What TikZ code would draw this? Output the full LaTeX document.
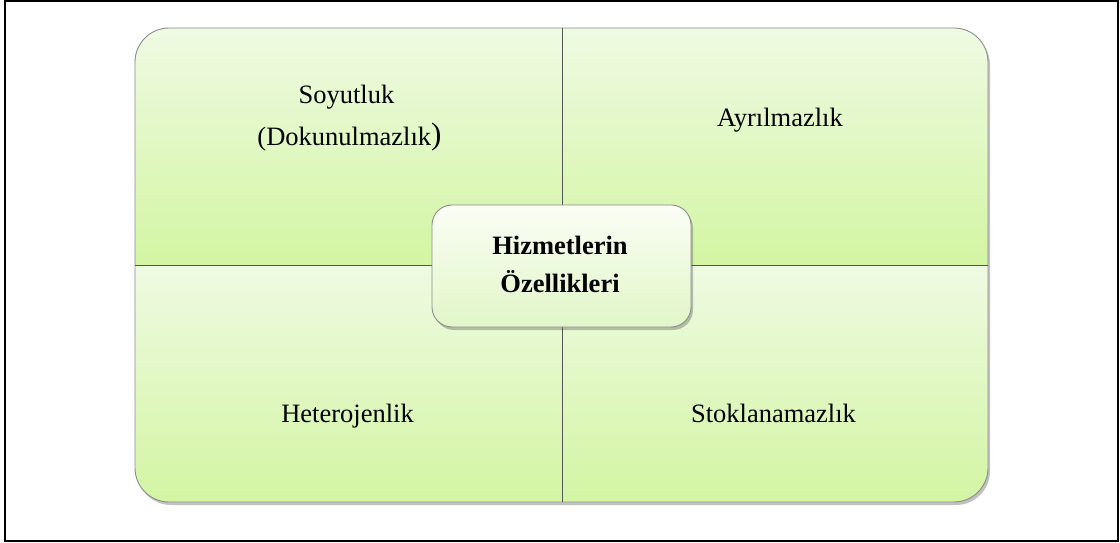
\documentclass[tikz,border=0pt]{standalone}
\usepackage{fontspec}
\setmainfont{Liberation Serif}
\usetikzlibrary{shadows}
\definecolor{quadtop}{HTML}{EFFAE3}
\definecolor{quadbot}{HTML}{D3F5A3}
\definecolor{edgegray}{HTML}{8C8C8C}
\definecolor{divline}{HTML}{555555}
\definecolor{hubtop}{HTML}{FBFEF6}
\definecolor{hubbot}{HTML}{E2F6C8}
\tikzset{
  lbl/.style={font=\fontsize{26.5}{32}\selectfont, inner sep=0pt, anchor=base},
  hublbl/.style={font=\fontsize{26.5}{32}\selectfont\bfseries, inner sep=0pt, anchor=base},
  quad/.style={top color=quadtop, bottom color=quadbot, draw=none},
  softshadow/.style={drop shadow={shadow xshift=2pt, shadow yshift=-3pt, opacity=0.35, fill=black!70}}
}
\begin{document}
\begin{tikzpicture}[x=1pt, y=-1pt]
  \useasboundingbox (0,0) rectangle (1120,543);
  % outer frame
  \draw[line width=1.4pt] (5,1) rectangle (1118,541);

  % four-part matrix with rounded outer corners
  \path[rounded corners=34, fill=white, softshadow] (135,28) rectangle (988,502);
  \begin{scope}
    \clip[rounded corners=34] (135,28) rectangle (988,502);
    \shade[quad] (135,28) rectangle (562,265);
    \shade[quad] (562,28) rectangle (988,265);
    \shade[quad] (135,265) rectangle (562,502);
    \shade[quad] (562,265) rectangle (988,502);
  \end{scope}
  \draw[rounded corners=34, edgegray, line width=0.9pt] (135,28) rectangle (988,502);
  \coordinate (vt) at (562,28);
  \coordinate (vb) at (562,502);
  \coordinate (hl) at (135,265);
  \coordinate (hr) at (988,265);
  \draw[divline, line width=0.8pt] (vt) -- (vb);
  \draw[divline, line width=0.8pt] (hl) -- (hr);

  % quadrant labels (positioned by baseline)
  \node[lbl] (soyut1) at (346.5,103) {Soyutluk};
  \node[lbl] (soyut2) at (349.5,145) {(Dokunulmazlık{\fontsize{31}{31}\selectfont\raisebox{1pt}{)}}};
  \node[lbl] (ayril) at (780,127) {Ayrılmazlık};
  \node[lbl] (hetero) at (347.5,422) {Heterojenlik};
  \node[lbl] (stok) at (773.5,422) {Stoklanamazlık};

  % central box
  \path[rounded corners=20, top color=hubtop, bottom color=hubbot, draw=edgegray, line width=0.9pt, softshadow]
    (432,205) rectangle (691,327);
  \node[hublbl] (hub1) at (560,254) {Hizmetlerin};
  \node[hublbl] (hub2) at (560,292) {Özellikleri};
\end{tikzpicture}
\end{document}
